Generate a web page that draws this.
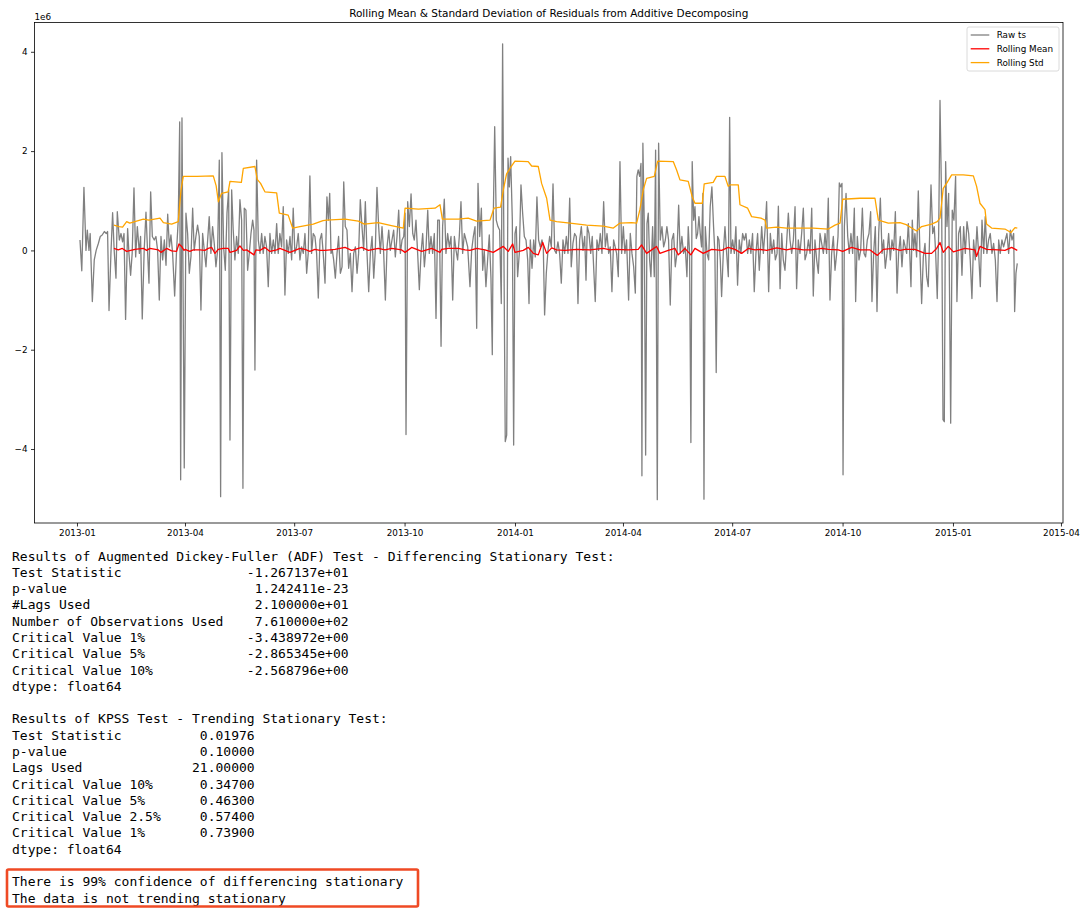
<!DOCTYPE html>
<html lang="en">
  <head>
    <meta charset="UTF-8" />
    <title>Rolling Mean & Standard Deviation of Residuals</title>
    <script src="https://d3js.org/d3.v7.min.js"></script>
    <style>
      body { margin: 0; background: #fff; }
    </style>
  </head>
  <body>
    <div id="chart"></div>

    <script>
      // day offsets are counted from 2013-01-01, values in units of 1e6
      const startDate = Date.UTC(2013, 0, 1);

      // residuals (raw ts): [day, value]
      const rawSeries = [
        [2.5,0.21],[4,-0.41],[5.8,1.27],[7.5,0],[8.6,0.41],[10,0],[11,0.34],[12.8,-1.03],[14.4,-0.19],[16,0],
        [17.8,0.14],[19.4,0.28],[21,0.31],[22.8,0.38],[24.4,0.34],[25.5,0.38],[26.7,-1.21],[28.3,-0.06],[29.7,0.76],[31,0],
        [32.5,-0.56],[33.6,0.78],[35.3,0.21],[36.7,0.34],[38,0.17],[39.2,0.34],[40.5,-1.39],[42.2,0.44],[43.3,-0.06],[44.7,-0.5],
        [46,-0.06],[47.5,1.26],[48.9,-0.13],[50.3,0.48],[52,-0.06],[53,0.28],[54.4,-1.38],[56,0],[57.5,0.77],[58.9,-0.06],
        [60,-0.66],[61.4,1.18],[62.8,0.28],[64.4,0.21],[65.8,0.28],[67.2,0],[68.6,-1.0],[70,0.28],[71.4,-0.19],[72.8,0.21],
        [74.2,-0.3],[75.6,0.73],[77,0.07],[78.3,0.31],[79.7,-0.06],[81.4,-0.92],[83,0],[84.4,0.61],[85.6,2.59],[86.4,-4.62],
        [87.5,2.67],[89.4,-4.38],[90.8,0.75],[92.2,0.34],[93.6,-0.46],[95,-0.12],[96.4,0.85],[97.7,0],[99.1,0.28],[100.5,0.51],
        [101.9,0.28],[103.3,-1.2],[104.7,0.34],[106.1,0],[107.5,-0.33],[108.9,0.21],[110.2,0.68],[111.6,-0.06],[113,0.48],[114.4,0.14],
        [115.8,-0.33],[117.2,0],[118.6,1.82],[119.7,-4.96],[120.8,1.97],[122.2,0.07],[123.6,-0.4],[125,0.75],[126.4,1.22],[127.5,-3.82],
        [128.9,1.22],[130.2,0.41],[131.6,-0.19],[133,0.28],[134.4,-0.06],[135.8,1.02],[137.2,0.61],[138.3,-4.79],[139.4,0.85],[140.8,0.81],
        [142.2,-0.4],[143.6,-0.06],[145,0.34],[146.4,0.61],[147.5,0.41],[148.3,-2.41],[149.7,1.82],[151.1,0.21],[152.5,-0.06],[153.9,0.34],
        [155.2,-0.06],[156.6,0.28],[158,0.07],[159.4,-0.73],[160.8,0.34],[162.2,-0.06],[163.6,0.21],[165,-0.06],[166.4,0.54],[167.7,-0.06],
        [169.1,0.34],[170.5,0.07],[171.9,0.88],[173.3,-0.9],[174.7,0.21],[176.1,-0.06],[177.5,0.28],[178.9,-0.19],[180.2,0.85],[181.6,-0.06],
        [183,0.07],[184.4,0.34],[185.8,-0.19],[187.2,0.07],[188.6,-0.06],[190,0.34],[191.4,-0.46],[192.7,-0.06],[194.1,1.5],[195.5,-0.06],
        [196.9,0.34],[198.3,0.28],[199.7,-0.06],[201.1,-0.96],[202.5,0.21],[203.9,0.34],[205.2,-0.06],[206.7,-0.66],[208.3,1.08],[209.5,0.61],
        [210.6,1.15],[211.7,-0.06],[212.8,0],[213.9,-0.19],[215.3,-0.56],[216.7,-0.06],[218,0.28],[219.5,-0.46],[220.9,-0.33],[222.3,1.38],
        [223.6,0.48],[225,0.41],[226.4,-0.36],[227.8,-0.06],[229.2,-0.83],[230.6,-0.06],[232,0.07],[233.4,-0.46],[234.7,-0.06],[236.1,1.02],
        [237.5,0.48],[238.9,0],[240.3,0.98],[241.7,-0.06],[243.1,-0.83],[244.5,-0.06],[245.9,0.28],[247.3,-0.56],[248.6,0],[250,1.27],
        [251.4,0.48],[252.8,-0.06],[254.2,0.48],[255.6,-0.06],[257,-1.0],[258.4,0.07],[259.8,0.41],[261.1,0],[262.5,0.21],[263.9,0.41],
        [265.3,-0.13],[266.7,0.28],[268.1,0.81],[269.5,-0.06],[270.9,0.21],[272.3,0.28],[273.4,0.75],[274.2,-3.71],[275.6,0.98],[277,0.48],
        [278.4,1.14],[279.8,0.34],[281.1,0.21],[282.5,0.61],[283.9,-0.06],[285.3,-0.79],[286.7,-0.06],[288.1,0.34],[289.5,-0.33],[290.9,0.07],
        [292.3,0.81],[293.6,-0.06],[295,0.28],[296.4,-0.06],[297.8,0.34],[299.2,-1.37],[300.6,0.61],[302,0.61],[303.4,-1.93],[304.7,0.48],
        [306.1,1.03],[307.5,-0.06],[308.9,0.34],[310.3,0.07],[311.7,0.28],[313.1,-1.0],[314.5,0.28],[315.9,0],[317.2,-0.19],[318.6,0.28],
        [320,0.98],[321.4,-0.06],[322.8,0.34],[324.2,0.21],[325.6,0.07],[327.5,-0.73],[328.9,0],[330.3,0.28],[331.7,0.48],[333.1,-1.57],
        [334.2,1.35],[335.6,0.28],[337,0.85],[338.1,-0.4],[339.4,0],[340.8,-0.73],[342.2,-0.19],[343.6,0.31],[345,-0.56],[346.1,-2.1],
        [346.9,0.61],[348.1,2.49],[349.4,0.61],[350.8,0.48],[352.2,0.41],[353.6,-1.07],[354.7,4.16],[355.8,-0.06],[356.9,-3.85],[358.1,-3.72],
        [359.2,1.86],[360.3,1.28],[361.4,1.89],[362.8,0.61],[363.9,-3.92],[365,0.34],[366.1,0.48],[367.2,-0.53],[368.6,-0.06],[370,1.32],
        [371.4,0.75],[372.8,0.28],[374.2,0.21],[375.6,-0.19],[376.7,-1.07],[377.8,0.21],[379.2,-0.36],[380.6,0.21],[381.9,-0.13],[383.3,1.08],
        [384.7,0.21],[386.1,0.07],[387.5,0.21],[388.6,0.07],[389.7,-1.3],[391.1,-0.46],[392.5,0],[393.9,0.28],[395.3,0.07],[396.7,1.34],
        [398.1,0],[399.4,-0.06],[400.8,0.17],[402.2,-0.06],[403.6,-0.66],[405,0.21],[406.4,-0.06],[407.8,0.28],[409.2,-0.06],[410.6,1.05],
        [411.9,-0.33],[413.3,0.14],[414.7,0.34],[416.1,0.28],[417.5,-1.07],[418.9,0.21],[420.3,0.48],[421.7,0],[423.1,0.28],[424.2,-0.6],
        [425.3,0.48],[426.7,0.34],[428.1,-0.06],[429.4,0.28],[430.8,-0.46],[431.9,-1.03],[433.3,0.21],[434.7,0],[436.1,0.34],[437.5,-0.06],
        [438.9,0.98],[440.3,0.07],[441.7,0.34],[443.1,-0.06],[444.4,0.07],[445.8,-0.83],[447.2,0.21],[449.7,-0.06],[451.1,-0.53],[452.5,1.79],
        [453.9,-0.06],[455.3,0.48],[456.6,-0.06],[458,0.21],[459.7,-1.0],[461.1,0.34],[462.5,-0.06],[463.9,-0.33],[465.3,-0.86],[466.6,1.49],
        [467.7,1.62],[468.9,1.49],[470,1.75],[470.8,-4.54],[471.6,2.16],[472.7,0.61],[473.9,-4.12],[475,0.54],[476.1,0.75],[477.2,-0.19],
        [478.3,-0.53],[479.7,0.48],[481.1,-0.53],[482.2,2.02],[483.6,-5.02],[484.7,2.16],[486.1,0.21],[487.5,0.48],[488.9,0.07],[490.3,0.21],
        [491.6,0.48],[493,0.21],[494.4,-1.1],[495.8,0.21],[497.2,0.34],[498.6,-0.33],[500,-0.06],[501.4,0.91],[502.7,-0.06],[504.1,0.28],
        [505.5,-0.06],[506.9,0.07],[508.3,-0.53],[509.4,0.48],[510.5,-0.06],[511.6,-3.87],[512.7,1.79],[513.9,0.61],[515,0.88],[516.1,0.24],
        [517.2,0.34],[518.3,0.68],[519.4,0.34],[520.5,0.07],[521.6,1.15],[522.5,-5.01],[523.6,0.48],[525,-0.06],[526.4,-0.19],[527.7,0.88],
        [529.1,1.28],[530.5,0.48],[531.6,-0.06],[532.7,-2.46],[533.9,0.28],[535,0.21],[536.1,-0.19],[537.2,-0.93],[538.6,-0.06],[540,0.48],
        [541.4,-0.06],[542.8,-0.53],[543.9,2.68],[545,-0.06],[546.4,0.21],[547.8,-0.06],[549.1,0.48],[550.5,-0.7],[551.9,0.21],[553.3,-0.06],
        [554.7,0.34],[556.1,0.21],[557.5,0.34],[558.9,-0.06],[560.3,0.21],[561.6,-0.06],[563,0.34],[564.4,-0.83],[565.8,-0.06],[567.2,0.34],
        [568.6,-0.4],[570.6,0.48],[572,-0.06],[573.4,0.41],[574.7,0.98],[576.4,-0.83],[577.8,0.34],[579.2,-0.06],[580.6,0.21],[582,-0.19],
        [583.4,-0.06],[584.5,0.89],[585.9,-0.77],[587.3,0.34],[588.6,-0.19],[590,-0.4],[591.4,0.17],[592.8,0.75],[594.2,0.21],[595.6,-0.06],
        [597,0.21],[598.4,0.88],[599.7,-0.77],[601.1,0.21],[602.5,-0.06],[603.9,0.34],[605.3,0.85],[606.7,-0.19],[608.1,-0.06],[609.5,0.21],
        [610.9,-0.06],[612.3,0.85],[613.6,-0.92],[615,0.21],[616.4,-0.19],[617.8,-0.46],[619.2,0.34],[620.6,0.14],[622,-0.06],[623.4,0.34],
        [624.7,-0.06],[626.1,1.05],[627.5,-1.0],[628.9,-0.06],[630.3,0.28],[631.7,-0.4],[633.1,-0.06],[634.2,0.28],[635.3,1.36],[636.4,1.28],
        [637.5,1.35],[638.4,-4.52],[639.5,0.48],[640.9,1.15],[642.3,0.28],[643.6,-0.06],[645,0.34],[646.4,-0.06],[647.8,0.85],[648.9,-1.03],
        [650.3,0.28],[651.7,-0.19],[653.1,0],[654.5,0.85],[655.9,-0.06],[657.2,-0.13],[658.6,0.21],[660,0.34],[661.4,0.78],[662.5,-1.03],
        [663.9,-0.06],[665.3,0.48],[666.7,-1.23],[668.1,0.34],[669.5,1.05],[670.9,-0.06],[672.2,0.21],[673.6,-0.36],[675,-0.06],[676.4,0.34],
        [677.8,-0.19],[679.2,0.21],[680.6,0],[682,0.78],[683.4,-0.86],[684.7,-0.06],[686.1,0.28],[687.5,-0.33],[688.9,0.21],[691.4,-0.06],
        [692.8,0.54],[693.9,0],[695,-0.73],[696.1,0.61],[697.2,0],[698.3,0.34],[699.7,-0.13],[701.1,1.2],[702.5,-0.06],[703.9,-1.07],
        [705.3,-0.13],[706.7,0.14],[708.1,-0.53],[709.4,-0.73],[710.6,0.34],[711.7,1.32],[713.1,0.34],[714.4,0.48],[715.6,-0.06],[716.9,-0.97],
        [718.1,0.34],[719.2,3.02],[720.6,0.88],[721.7,-3.41],[722.8,-3.45],[723.9,1.79],[725,0.48],[726.4,1.15],[728.1,-3.48],[729.4,0.81],
        [730.8,0.61],[732.2,1.49],[733.3,-1.03],[734.7,0.34],[736.1,0.48],[737.5,-0.5],[738.9,0.48],[740.3,-0.06],[741.7,0.58],[743.1,0.34],
        [744.4,-0.19],[745.8,-0.97],[747.2,0.21],[748.6,-0.19],[750,0.48],[751.4,-0.06],[752.8,-0.73],[754.2,0.61],[755.6,-0.06],[756.9,0.68],
        [758.3,-0.06],[759.7,0.21],[761.1,0.34],[762.5,-0.06],[763.9,0.14],[765.3,-0.19],[766.7,-1.03],[768.1,0.21],[769.4,-0.06],[770.8,0.21],
        [772.2,0.07],[773.6,0.21],[775,0.34],[776.4,-0.06],[777.8,0.41],[779.2,0.21],[780.6,0.34],[781.4,-1.23],[782.5,-0.46],[783.6,-0.26]
      ];

      // rolling mean: [day, value]
      const meanSeries = [
        [30.8,0.04],[34.4,0.01],[37.8,0.04],[41.4,-0.02],[48.3,0.02],[55.3,0.04],[58.1,0],[60.8,0.04],[67.8,0.01],[70,-0.04],
        [74.7,0.04],[78.9,-0.01],[83,-0.02],[85,0.13],[87.2,0.08],[89.2,0],[90,0.02],[94.1,-0.02],[96.9,0.01],[102.5,0.01],
        [106.6,0],[109.4,0.04],[112.2,0.06],[115,-0.06],[117.7,0.02],[121.9,0.04],[126.1,0.04],[127.5,-0.04],[133,0],[135.8,0.09],
        [138.6,0],[141.4,0.01],[147.5,-0.09],[149.1,0.01],[152.5,0],[156.6,0.06],[160.8,-0.02],[166.4,0.01],[169.1,0.04],[173.3,0],
        [177.5,-0.04],[181.6,0],[185.8,0.04],[190,0.02],[194.1,-0.02],[198.3,0.02],[202.5,0],[206.6,0],[210.9,0.01],[215,0.02],
        [223.4,0.06],[228.9,0],[234.5,0.04],[237.3,0.06],[242.8,0],[251.1,0.04],[256.7,0.01],[262.3,0.04],[270.6,0.01],[273.4,-0.04],
        [278.9,0.06],[283.1,0.02],[287.3,-0.02],[295.6,0.04],[302.5,-0.04],[303.9,0.02],[309.5,0.04],[317.8,0.04],[323.4,0.01],[327.5,0],
        [333.1,0.04],[340,0.01],[346.9,-0.04],[351.1,0.02],[355.3,0.08],[359.4,-0.02],[363.1,0.13],[365,-0.04],[371.9,0],[376.1,0.06],
        [380.3,-0.06],[384.4,-0.09],[388.1,0.16],[391.4,-0.06],[395.6,0.05],[399.7,0.01],[406.7,0],[416.4,0.02],[427.5,0.01],[438.6,0.04],
        [444.2,0.01],[448.3,0.02],[459.4,0.01],[467.7,0.02],[470.5,0.11],[474.7,-0.06],[478.9,0.01],[483,0.08],[485.8,-0.06],[492.7,0],
        [498.3,0.04],[501.1,-0.09],[506.6,0.04],[511.6,-0.09],[515,0.04],[521.9,-0.06],[528.9,0.02],[537.2,0],[542.7,0.06],[548.3,0.02],
        [553.9,-0.06],[559.4,0.04],[565,0.01],[569.2,0.02],[574.8,0],[583.1,0.05],[591.4,0.01],[597,0.04],[605.3,0.01],[612.3,0.01],
        [620.6,0.04],[626.1,0.02],[634.5,0.01],[638.1,-0.02],[645.6,0.06],[652.5,0.01],[660.9,0.01],[667,-0.1],[672,0.02],[680.3,0.04],
        [685.9,0],[690,0.02],[698.3,0.02],[706.7,-0.06],[712.2,-0.06],[716.4,0.04],[719.2,0.16],[721.9,-0.04],[726.1,0.08],[730.3,-0.03],
        [740,0.04],[748.3,0.01],[749.7,-0.12],[752.5,0.08],[758.1,0.02],[767.8,0.01],[773.3,0],[778.9,0.06],[783.6,0]
      ];

      // rolling std: [day, value]
      const stdSeries = [
        [30.8,0.51],[35,0.48],[38,0.47],[41.4,0.58],[44,0.55],[55.3,0.63],[60,0.61],[69.2,0.65],[72,0.56],[78.9,0.53],
        [84.4,0.58],[86.7,1.22],[88.6,1.49],[100,1.49],[113.6,1.5],[116,1.3],[117.8,0.98],[120.5,1.15],[126,1.18],[127.5,1.39],
        [137,1.37],[138.6,1.65],[148.3,1.69],[150.2,1.43],[153,1.35],[156.6,1.18],[166.4,1.16],[168.6,0.75],[176,0.71],[179.7,0.45],
        [185.8,0.48],[196.9,0.53],[205,0.6],[208,0.61],[223.4,0.63],[234.5,0.59],[239.5,0.53],[251,0.56],[262,0.5],[272,0.45],
        [273.4,0.85],[284.5,0.83],[298.4,0.85],[302.5,0.92],[304.5,0.63],[317.8,0.63],[326,0.65],[333,0.59],[344.2,0.61],[347.5,0.85],
        [353,0.87],[355.3,1.22],[358,1.54],[360.8,1.65],[365,1.8],[376,1.79],[378.9,1.7],[384.4,1.69],[387.2,1.35],[391.4,1.05],
        [394.2,0.61],[399.7,0.58],[410.8,0.55],[424.7,0.51],[438.6,0.49],[447,0.45],[452.5,0.55],[462.2,0.56],[466.4,0.55],[469.1,0.82],
        [471.9,1.22],[474.7,1.45],[481.1,1.49],[483.9,1.8],[496.9,1.79],[499.7,1.62],[502.5,1.42],[509.4,1.39],[512.7,1.08],[515,0.95],
        [521.1,0.95],[522.7,1.34],[530.2,1.37],[533,1.49],[540,1.49],[542.7,1.29],[544.1,1.32],[551.1,1.32],[552.5,0.92],[558.9,0.85],
        [562.2,0.68],[570,0.65],[573.4,0.61],[574.7,0.45],[583,0.47],[591.4,0.45],[602.5,0.45],[613.6,0.45],[626.1,0.43],[631.7,0.51],
        [635.9,0.55],[638.1,1.03],[652.5,1.05],[665,1.05],[667.8,0.61],[676.1,0.55],[685.9,0.56],[691,0.52],[695.6,0.45],[699.7,0.39],
        [703.9,0.48],[712.2,0.53],[716.9,0.58],[719.2,0.65],[721.9,1.25],[724.7,1.35],[728.9,1.52],[738.6,1.52],[747,1.5],[749.7,1.29],
        [752.5,0.95],[756.7,0.82],[758,0.53],[762.2,0.45],[773.3,0.43],[778.3,0.36],[781.7,0.46],[783.6,0.45]
      ];

      const yTicks = [-4, -2, 0, 2, 4];
      const xTickDates = ["2013-01", "2013-04", "2013-07", "2013-10", "2014-01",
                          "2014-04", "2014-07", "2014-10", "2015-01", "2015-04"];

      const legendLabels = ["Raw ts", "Rolling Mean", "Rolling Std"];
      const legendColors = ["#808080", "#ff0000", "#ffa500"];

      const adfLines = [
        "Results of Augmented Dickey-Fuller (ADF) Test - Differencing Stationary Test:",
        "Test Statistic                -1.267137e+01",
        "p-value                        1.242411e-23",
        "#Lags Used                     2.100000e+01",
        "Number of Observations Used    7.610000e+02",
        "Critical Value 1%             -3.438972e+00",
        "Critical Value 5%             -2.865345e+00",
        "Critical Value 10%            -2.568796e+00",
        "dtype: float64",
        "",
        "Results of KPSS Test - Trending Stationary Test:",
        "Test Statistic          0.01976",
        "p-value                 0.10000",
        "Lags Used              21.00000",
        "Critical Value 10%      0.34700",
        "Critical Value 5%       0.46300",
        "Critical Value 2.5%     0.57400",
        "Critical Value 1%       0.73900",
        "dtype: float64",
        "",
        "There is 99% confidence of differencing stationary",
        "The data is not trending stationary",
      ];

      const W = 1087, H = 913;
      const plot = { left: 34.5, top: 22.5, right: 1063, bottom: 523 };
      const toDate = (d) => new Date(startDate + d * 86400000);

      const svg = d3
        .select("#chart")
        .append("svg")
        .attr("width", W)
        .attr("height", H)
        .style("font-family", "DejaVu Sans, sans-serif");

      svg.append("rect").attr("width", W).attr("height", H).attr("fill", "#fff");

      // scales (matplotlib style 5% margins)
      const x = d3
        .scaleUtc()
        .domain([toDate(-35.4), toDate(821.7)])
        .range([plot.left, plot.right]);

      const y = d3
        .scaleLinear()
        .domain([-5.49, 4.59])
        .range([plot.bottom, plot.top]);

      // title
      svg
        .append("text")
        .attr("x", (plot.left + plot.right) / 2)
        .attr("y", 17)
        .attr("text-anchor", "middle")
        .attr("font-size", 10.5)
        .attr("fill", "#000")
        .text("Rolling Mean & Standard Deviation of Residuals from Additive Decomposing");

      // lines
      const line = d3
        .line()
        .x((d) => x(toDate(d[0])))
        .y((d) => y(d[1]));

      const plotG = svg.append("g");
      [[rawSeries, legendColors[0]], [meanSeries, legendColors[1]], [stdSeries, legendColors[2]]].forEach(
        ([series, color]) => {
          plotG
            .append("path")
            .datum(series)
            .attr("fill", "none")
            .attr("stroke", color)
            .attr("stroke-width", 1.3)
            .attr("stroke-linejoin", "round")
            .attr("d", line);
        }
      );

      // x axis
      const xAxis = d3
        .axisBottom(x)
        .tickValues(xTickDates.map((s) => new Date(s + "-01T00:00:00Z")))
        .tickFormat(d3.utcFormat("%Y-%m"))
        .tickSizeInner(3.5)
        .tickSizeOuter(0)
        .tickPadding(3.5);
      const gx = svg
        .append("g")
        .attr("transform", `translate(0,${plot.bottom})`)
        .call(xAxis);
      gx.select(".domain").remove();
      gx.selectAll("line").attr("stroke", "#000").attr("stroke-width", 0.8);
      gx.selectAll("text").attr("font-size", 8.8).attr("fill", "#000").attr("font-family", "DejaVu Sans");

      // y axis
      const yAxis = d3
        .axisLeft(y)
        .tickValues(yTicks)
        .tickFormat(d3.format("d"))
        .tickSizeInner(3.5)
        .tickSizeOuter(0)
        .tickPadding(3.5);
      const gy = svg
        .append("g")
        .attr("transform", `translate(${plot.left},0)`)
        .call(yAxis);
      gy.select(".domain").remove();
      gy.selectAll("line").attr("stroke", "#000").attr("stroke-width", 0.8);
      gy.selectAll("text").attr("font-size", 8.8).attr("fill", "#000").attr("font-family", "DejaVu Sans");

      svg
        .append("text")
        .attr("x", plot.left)
        .attr("y", 20)
        .attr("font-size", 8.8)
        .attr("fill", "#000")
        .text("1e6");

      // frame
      svg
        .append("rect")
        .attr("x", plot.left)
        .attr("y", plot.top)
        .attr("width", plot.right - plot.left)
        .attr("height", plot.bottom - plot.top)
        .attr("fill", "none")
        .attr("stroke", "#000")
        .attr("stroke-width", 0.8);

      // legend
      const legend = svg.append("g").attr("transform", "translate(967,27)");
      legend
        .append("rect")
        .attr("width", 92)
        .attr("height", 44)
        .attr("rx", 2)
        .attr("fill", "#fff")
        .attr("fill-opacity", 0.8)
        .attr("stroke", "#d0d0d0")
        .attr("stroke-width", 0.8);
      const item = legend
        .selectAll("g.item")
        .data(legendLabels)
        .join("g")
        .attr("class", "item")
        .attr("transform", (d, i) => `translate(0,${8 + i * 13.8})`);
      item
        .append("line")
        .attr("x1", 3.7)
        .attr("x2", 22.3)
        .attr("stroke", (d, i) => legendColors[i])
        .attr("stroke-width", 1.3);
      item
        .append("text")
        .attr("x", 29.7)
        .attr("dy", "0.35em")
        .attr("font-size", 8.8)
        .attr("fill", "#000")
        .text((d) => d);

      // test output text below the chart
      const out = svg
        .append("g")
        .attr("font-family", "DejaVu Sans Mono, monospace")
        .attr("font-size", 13)
        .attr("fill", "#000");
      out
        .selectAll("text")
        .data(adfLines)
        .join("text")
        .attr("x", 12)
        .attr("y", (d, i) => 560.5 + i * 16.29)
        .style("white-space", "pre")
        .text((d) => d);

      // highlight box around the conclusion
      svg
        .append("rect")
        .attr("x", 7)
        .attr("y", 869.5)
        .attr("width", 411)
        .attr("height", 37)
        .attr("rx", 1.5)
        .attr("fill", "none")
        .attr("stroke", "#ef4a24")
        .attr("stroke-width", 2.6);
    </script>
  </body>
</html>
